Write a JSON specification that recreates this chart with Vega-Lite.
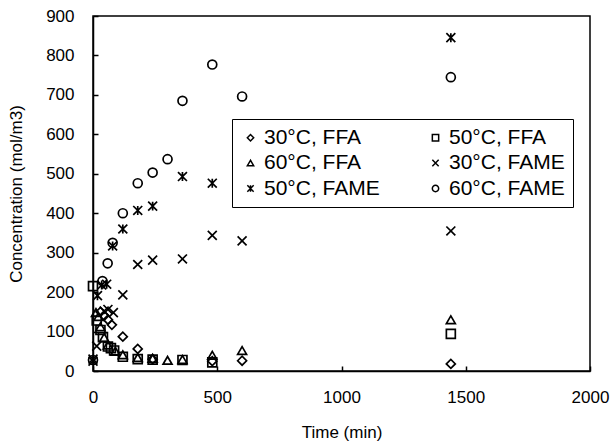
{
  "$schema": "https://vega.github.io/schema/vega-lite/v6.json",
  "width": 497,
  "height": 355,
  "autosize": "none",
  "padding": {"left": 93, "top": 16, "right": 24, "bottom": 74},
  "config": {
    "font": "Liberation Sans",
    "view": {"stroke": "black", "strokeWidth": 1.5},
    "axis": {
      "grid": false,
      "domainColor": "black",
      "domainWidth": 1.5,
      "tickColor": "black",
      "tickWidth": 1.5,
      "tickSize": -5,
      "labelFontSize": 17,
      "labelColor": "black",
      "titleFontSize": 17,
      "titleFontWeight": "normal",
      "titleColor": "black"
    }
  },
  "data": {
    "values": [
      {"t": 30, "c": 150, "s": "30°C, FFA"},
      {"t": 45, "c": 140, "s": "30°C, FFA"},
      {"t": 60, "c": 130, "s": "30°C, FFA"},
      {"t": 76, "c": 117, "s": "30°C, FFA"},
      {"t": 120, "c": 87, "s": "30°C, FFA"},
      {"t": 180, "c": 56, "s": "30°C, FFA"},
      {"t": 240, "c": 30, "s": "30°C, FFA"},
      {"t": 480, "c": 25, "s": "30°C, FFA"},
      {"t": 600, "c": 26, "s": "30°C, FFA"},
      {"t": 1440, "c": 18, "s": "30°C, FFA"},
      {"t": 0, "c": 215, "s": "50°C, FFA"},
      {"t": 15, "c": 128, "s": "50°C, FFA"},
      {"t": 30, "c": 104, "s": "50°C, FFA"},
      {"t": 40, "c": 86, "s": "50°C, FFA"},
      {"t": 60, "c": 62, "s": "50°C, FFA"},
      {"t": 72, "c": 58, "s": "50°C, FFA"},
      {"t": 85, "c": 52, "s": "50°C, FFA"},
      {"t": 120, "c": 36, "s": "50°C, FFA"},
      {"t": 180, "c": 30, "s": "50°C, FFA"},
      {"t": 240, "c": 29, "s": "50°C, FFA"},
      {"t": 360, "c": 28, "s": "50°C, FFA"},
      {"t": 480, "c": 22, "s": "50°C, FFA"},
      {"t": 1440, "c": 94, "s": "50°C, FFA"},
      {"t": 12, "c": 148, "s": "60°C, FFA"},
      {"t": 22, "c": 138, "s": "60°C, FFA"},
      {"t": 30, "c": 112, "s": "60°C, FFA"},
      {"t": 45, "c": 85, "s": "60°C, FFA"},
      {"t": 60, "c": 66, "s": "60°C, FFA"},
      {"t": 90, "c": 50, "s": "60°C, FFA"},
      {"t": 120, "c": 41, "s": "60°C, FFA"},
      {"t": 180, "c": 34, "s": "60°C, FFA"},
      {"t": 240, "c": 32, "s": "60°C, FFA"},
      {"t": 300, "c": 27, "s": "60°C, FFA"},
      {"t": 360, "c": 29, "s": "60°C, FFA"},
      {"t": 480, "c": 40, "s": "60°C, FFA"},
      {"t": 600, "c": 52, "s": "60°C, FFA"},
      {"t": 1440, "c": 130, "s": "60°C, FFA"},
      {"t": 0, "c": 25, "s": "30°C, FAME"},
      {"t": 15, "c": 63, "s": "30°C, FAME"},
      {"t": 45, "c": 152, "s": "30°C, FAME"},
      {"t": 60, "c": 156, "s": "30°C, FAME"},
      {"t": 82, "c": 148, "s": "30°C, FAME"},
      {"t": 120, "c": 193, "s": "30°C, FAME"},
      {"t": 180, "c": 270, "s": "30°C, FAME"},
      {"t": 240, "c": 281, "s": "30°C, FAME"},
      {"t": 360, "c": 284, "s": "30°C, FAME"},
      {"t": 480, "c": 344, "s": "30°C, FAME"},
      {"t": 600, "c": 330, "s": "30°C, FAME"},
      {"t": 1440, "c": 355, "s": "30°C, FAME"},
      {"t": 0, "c": 30, "s": "50°C, FAME"},
      {"t": 18, "c": 191, "s": "50°C, FAME"},
      {"t": 35, "c": 218, "s": "50°C, FAME"},
      {"t": 55, "c": 220, "s": "50°C, FAME"},
      {"t": 79, "c": 317, "s": "50°C, FAME"},
      {"t": 120, "c": 360, "s": "50°C, FAME"},
      {"t": 180, "c": 407, "s": "50°C, FAME"},
      {"t": 240, "c": 418, "s": "50°C, FAME"},
      {"t": 360, "c": 493, "s": "50°C, FAME"},
      {"t": 480, "c": 476, "s": "50°C, FAME"},
      {"t": 1440, "c": 845, "s": "50°C, FAME"},
      {"t": 0, "c": 28, "s": "60°C, FAME"},
      {"t": 38, "c": 228, "s": "60°C, FAME"},
      {"t": 59, "c": 273, "s": "60°C, FAME"},
      {"t": 79, "c": 325, "s": "60°C, FAME"},
      {"t": 120, "c": 400, "s": "60°C, FAME"},
      {"t": 180, "c": 476, "s": "60°C, FAME"},
      {"t": 240, "c": 503, "s": "60°C, FAME"},
      {"t": 300, "c": 537, "s": "60°C, FAME"},
      {"t": 360, "c": 685, "s": "60°C, FAME"},
      {"t": 480, "c": 777, "s": "60°C, FAME"},
      {"t": 600, "c": 696, "s": "60°C, FAME"},
      {"t": 1440, "c": 745, "s": "60°C, FAME"}
    ]
  },
  "mark": {"type": "point", "filled": false, "stroke": "black", "strokeWidth": 1.7, "size": 80, "opacity": 1},
  "encoding": {
    "x": {
      "field": "t", "type": "quantitative", "title": "Time (min)",
      "scale": {"domain": [0, 2000], "nice": false},
      "axis": {"values": [0, 500, 1000, 1500, 2000], "format": "d", "labelPadding": 23, "titlePadding": 19, "labelFlush": false}
    },
    "y": {
      "field": "c", "type": "quantitative", "title": "Concentration (mol/m3)",
      "scale": {"domain": [0, 900], "nice": false},
      "axis": {"values": [0, 100, 200, 300, 400, 500, 600, 700, 800, 900], "format": "d", "labelPadding": 24, "titlePadding": 20, "labelFlush": false}
    },
    "shape": {
      "field": "s", "type": "nominal",
      "scale": {
        "domain": ["30°C, FFA", "50°C, FFA", "60°C, FFA", "30°C, FAME", "50°C, FAME", "60°C, FAME"],
        "range": ["diamond", "square", "triangle-up", "M-1,-1L1,1M-1,1L1,-1", "M-1,-1L1,1M-1,1L1,-1M0,-1L0,1", "circle"]
      },
      "legend": {
        "title": null,
        "orient": "none",
        "legendX": 139,
        "legendY": 103,
        "columns": 2,
        "direction": "horizontal",
        "columnPadding": 45,
        "rowPadding": 3.5,
        "padding": 8,
        "strokeColor": "black",
        "labelFontSize": 21,
        "labelColor": "black",
        "labelOffset": 3,
        "labelExpr": "datum.label + '   '",
        "symbolSize": 40,
        "symbolStrokeColor": "black",
        "symbolStrokeWidth": 1.5,
        "symbolFillColor": "transparent"
      }
    }
  }
}
